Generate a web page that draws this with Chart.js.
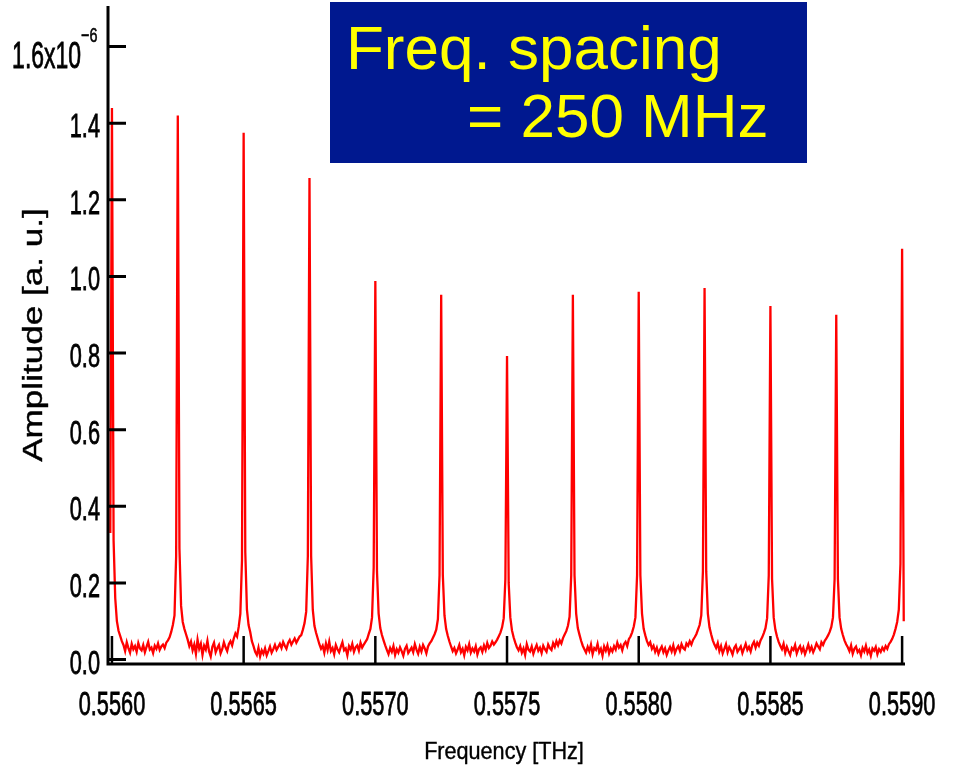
<!DOCTYPE html>
<html lang="en">
<head>
    <meta charset="UTF-8">
    <title>Frequency comb spectrum</title>
    <script src="https://cdn.jsdelivr.net/npm/chart.js"></script>
    <style>
        body {
            margin: 0;
            padding: 0;
            background-color: #ffffff;
            font-family: "Liberation Sans", Arial, sans-serif;
        }
        .wrap {
            position: relative;
            width: 957px;
            height: 774px;
        }
        .note {
            position: absolute;
            left: 330px;
            top: 2px;
            width: 477px;
            height: 161px;
            background-color: #00188f;
            color: #ffff00;
            font-size: 62px;
            line-height: 62px;
        }
        .note div {
            position: absolute;
            white-space: nowrap;
        }
    </style>
</head>
<body>
    <div class="wrap">
        <canvas id="spectrum" width="957" height="774"></canvas>
        <div class="note">
            <div style="left: 16px; top: 15px;">Freq. spacing</div>
            <div style="left: 137px; top: 83px;">= 250 MHz</div>
        </div>
    </div>

    <script>
        // spectrum samples, frequency grid in THz, amplitude in units of 1e-6
        const freqStart = 0.55599375;
        const freqStep = 0.00000625;
        const amplitude = [
            0.33,
            // 0.5560 -> 0.55625
            1.44, 0.31, 0.16, 0.10, 0.075, 0.062, 0.048,
            0.038, 0.022, 0.045, 0.030, 0.018, 0.041, 0.027, 0.035, 0.020, 0.043, 0.029, 0.024, 0.038, 0.019,
            0.033, 0.046, 0.026, 0.031, 0.017, 0.036, 0.028, 0.042, 0.025, 0.034, 0.039, 0.030, 0.044,
            0.050, 0.058, 0.072, 0.090, 0.115, 0.27,
            // 0.55625 -> 0.5565
            1.42, 0.29, 0.14, 0.098, 0.080, 0.066, 0.052,
            0.035, 0.047, 0.024, 0.039, 0.015, 0.052, 0.028, 0.041, 0.012, 0.036, 0.026, 0.049, 0.021, 0.008,
            0.033, 0.044, 0.019, 0.030, 0.038, 0.016, 0.027, 0.045, 0.032, 0.022, 0.040, 0.048, 0.037,
            0.055, 0.068, 0.060, 0.085, 0.12, 0.26,
            // 0.5565 -> 0.55675
            1.375, 0.28, 0.13, 0.090, 0.072, 0.048, 0.035,
            0.020, 0.012, 0.031, 0.008, 0.024, 0.015, 0.029, 0.011, 0.022, 0.034, 0.018, 0.027, 0.038, 0.025,
            0.033, 0.041, 0.030, 0.046, 0.036, 0.028, 0.043, 0.051, 0.039, 0.047, 0.055, 0.044, 0.052,
            0.060, 0.064, 0.078, 0.095, 0.125, 0.27,
            // 0.55675 -> 0.5570
            1.257, 0.27, 0.13, 0.088, 0.070, 0.055, 0.040,
            0.028, 0.036, 0.018, 0.042, 0.025, 0.047, 0.022, 0.030, 0.014, 0.038, 0.027, 0.019, 0.033, 0.045,
            0.024, 0.029, 0.011, 0.035, 0.026, 0.041, 0.020, 0.032, 0.037, 0.023, 0.044, 0.031, 0.039,
            0.046, 0.053, 0.067, 0.080, 0.110, 0.24,
            // 0.5570 -> 0.55725
            0.988, 0.23, 0.12, 0.082, 0.064, 0.050, 0.037,
            0.025, 0.014, 0.030, 0.020, 0.035, 0.012, 0.027, 0.018, 0.032, 0.022, 0.010, 0.028, 0.036, 0.017,
            0.024, 0.031, 0.019, 0.040, 0.026, 0.015, 0.033, 0.021, 0.038, 0.029, 0.016, 0.034, 0.042,
            0.048, 0.057, 0.066, 0.078, 0.105, 0.22,
            // 0.55725 -> 0.5575
            0.952, 0.22, 0.115, 0.080, 0.062, 0.047, 0.034,
            0.022, 0.030, 0.016, 0.026, 0.038, 0.019, 0.028, 0.011, 0.033, 0.024, 0.040, 0.018, 0.029, 0.021,
            0.035, 0.013, 0.027, 0.032, 0.020, 0.037, 0.025, 0.043, 0.030, 0.036, 0.047, 0.039, 0.045,
            0.052, 0.061, 0.070, 0.084, 0.108, 0.21,
            // 0.5575 -> 0.55775
            0.792, 0.20, 0.11, 0.076, 0.058, 0.044, 0.032,
            0.024, 0.035, 0.018, 0.029, 0.012, 0.040, 0.026, 0.021, 0.034, 0.015, 0.028, 0.038, 0.023, 0.031,
            0.017, 0.036, 0.027, 0.020, 0.039, 0.030, 0.025, 0.043, 0.033, 0.048, 0.037, 0.050, 0.042,
            0.056, 0.065, 0.074, 0.088, 0.112, 0.22,
            // 0.55775 -> 0.5580
            0.952, 0.22, 0.12, 0.082, 0.065, 0.049, 0.036,
            0.027, 0.018, 0.033, 0.022, 0.039, 0.014, 0.030, 0.025, 0.041, 0.019, 0.028, 0.010, 0.034, 0.023,
            0.037, 0.016, 0.029, 0.021, 0.035, 0.026, 0.044, 0.031, 0.038, 0.024, 0.040, 0.046, 0.035,
            0.053, 0.060, 0.071, 0.086, 0.110, 0.22,
            // 0.5580 -> 0.55825
            0.960, 0.22, 0.12, 0.080, 0.063, 0.048, 0.038,
            0.045, 0.028, 0.036, 0.020, 0.031, 0.015, 0.026, 0.034, 0.019, 0.029, 0.012, 0.024, 0.033, 0.021,
            0.037, 0.017, 0.028, 0.035, 0.023, 0.040, 0.030, 0.026, 0.042, 0.036, 0.048, 0.039, 0.051,
            0.058, 0.066, 0.078, 0.090, 0.115, 0.23,
            // 0.55825 -> 0.5585
            0.970, 0.23, 0.12, 0.084, 0.066, 0.050, 0.039,
            0.030, 0.043, 0.022, 0.035, 0.016, 0.028, 0.040, 0.019, 0.032, 0.024, 0.013, 0.030, 0.037, 0.020,
            0.027, 0.034, 0.017, 0.029, 0.041, 0.025, 0.033, 0.021, 0.038, 0.046, 0.031, 0.044, 0.036,
            0.050, 0.058, 0.069, 0.082, 0.108, 0.22,
            // 0.5585 -> 0.55875
            0.923, 0.21, 0.11, 0.078, 0.060, 0.046, 0.036,
            0.027, 0.041, 0.018, 0.033, 0.022, 0.012, 0.030, 0.025, 0.038, 0.016, 0.028, 0.035, 0.020, 0.031,
            0.014, 0.026, 0.039, 0.023, 0.033, 0.019, 0.029, 0.042, 0.034, 0.027, 0.045, 0.038, 0.049,
            0.055, 0.063, 0.072, 0.085, 0.110, 0.21,
            // 0.55875 -> 0.5590
            0.900, 0.21, 0.11, 0.080, 0.064, 0.050, 0.040,
            0.032, 0.022, 0.037, 0.015, 0.028, 0.034, 0.019, 0.025, 0.011, 0.030, 0.021, 0.036, 0.017, 0.026,
            0.010, 0.029, 0.023, 0.033, 0.014, 0.027, 0.020, 0.031, 0.024, 0.035, 0.028, 0.040, 0.046,
            0.054, 0.065, 0.080, 0.098, 0.130, 0.25,
            // 0.5590
            1.072, 0.10
        ];

        const xTicks = [0.5560, 0.5565, 0.5570, 0.5575, 0.5580, 0.5585, 0.5590];
        const xTickLabels = ["0.5560", "0.5565", "0.5570", "0.5575", "0.5580", "0.5585", "0.5590"];
        const yTicks = [0, 0.2, 0.4, 0.6, 0.8, 1.0, 1.2, 1.4, 1.6];
        const yTickLabels = ["0.0", "0.2", "0.4", "0.6", "0.8", "1.0", "1.2", "1.4", "1.6x10"];
        const yExponent = "\u22126";
        const xTitle = "Frequency [THz]";
        const yTitle = "Amplitude [a. u.]";

        const points = amplitude.map((a, i) => ({ x: freqStart + i * freqStep, y: a }));

        const FONT = '"Liberation Sans", Arial, sans-serif';

        // condensed text: the original uses a narrow face, so squeeze Liberation Sans
        function drawText(ctx, text, x, y, size, sx, align, heavy) {
            ctx.save();
            ctx.translate(x, y);
            ctx.scale(sx, 1);
            ctx.font = size + "px " + FONT;
            ctx.textAlign = align;
            ctx.textBaseline = "alphabetic";
            ctx.fillText(text, 0, 0);
            if (heavy) {
                ctx.lineWidth = heavy;
                ctx.strokeText(text, 0, 0);
            }
            ctx.restore();
        }

        const axesPlugin = {
            id: "axes",
            afterDatasetsDraw(chart) {
                const { ctx, chartArea } = chart;
                const xs = chart.scales.x;
                const ys = chart.scales.y;
                ctx.save();
                ctx.strokeStyle = "#000000";
                ctx.fillStyle = "#000000";
                ctx.lineWidth = 3;
                ctx.beginPath();
                ctx.moveTo(chartArea.left, chartArea.top);
                ctx.lineTo(chartArea.left, chartArea.bottom);
                ctx.lineTo(chartArea.right, chartArea.bottom);
                ctx.stroke();

                // inward ticks
                ctx.beginPath();
                yTicks.forEach(v => {
                    const py = ys.getPixelForValue(v);
                    ctx.moveTo(chartArea.left, py);
                    ctx.lineTo(chartArea.left + 18, py);
                });
                ctx.stroke();

                ctx.lineWidth = 2.5;
                ctx.beginPath();
                xTicks.forEach(v => {
                    const px = xs.getPixelForValue(v);
                    ctx.moveTo(px, chartArea.bottom);
                    ctx.lineTo(px, chartArea.bottom - 28);
                });
                ctx.stroke();

                // tick labels
                yTicks.forEach((v, i) => {
                    const py = ys.getPixelForValue(v);
                    if (i === yTicks.length - 1) {
                        drawText(ctx, yTickLabels[i], 81, py + 21, 37, 0.62, "right", 0.8);
                        drawText(ctx, yExponent, 81, py - 5, 20, 0.72, "left", 0.6);
                    } else {
                        drawText(ctx, yTickLabels[i], 100, py + 14, 34, 0.64, "right", 0.8);
                    }
                });
                xTicks.forEach((v, i) => {
                    const px = xs.getPixelForValue(v);
                    drawText(ctx, xTickLabels[i], px, 715, 34, 0.64, "center", 0.8);
                });

                // axis titles
                drawText(ctx, xTitle, 504, 759, 24, 0.9, "center", 0.4);
                ctx.save();
                ctx.translate(42, 335);
                ctx.rotate(-Math.PI / 2);
                drawText(ctx, yTitle, 0, 0, 27, 1.3, "center", 0.4);
                ctx.restore();

                ctx.restore();
            }
        };

        new Chart(document.getElementById("spectrum").getContext("2d"), {
            type: "line",
            data: {
                datasets: [{
                    label: "Amplitude",
                    data: points,
                    borderColor: "#ff0000",
                    borderWidth: 2.3,
                    pointRadius: 0,
                    tension: 0,
                    fill: false
                }]
            },
            options: {
                responsive: false,
                animation: false,
                layout: {
                    padding: { left: 108, top: 6, right: 52, bottom: 110 }
                },
                plugins: {
                    legend: { display: false },
                    tooltip: { enabled: false }
                },
                scales: {
                    x: { type: "linear", min: 0.555985, max: 0.559011, display: false },
                    y: { type: "linear", min: -0.0117, max: 1.706, display: false }
                }
            },
            plugins: [axesPlugin]
        });
    </script>
</body>
</html>
